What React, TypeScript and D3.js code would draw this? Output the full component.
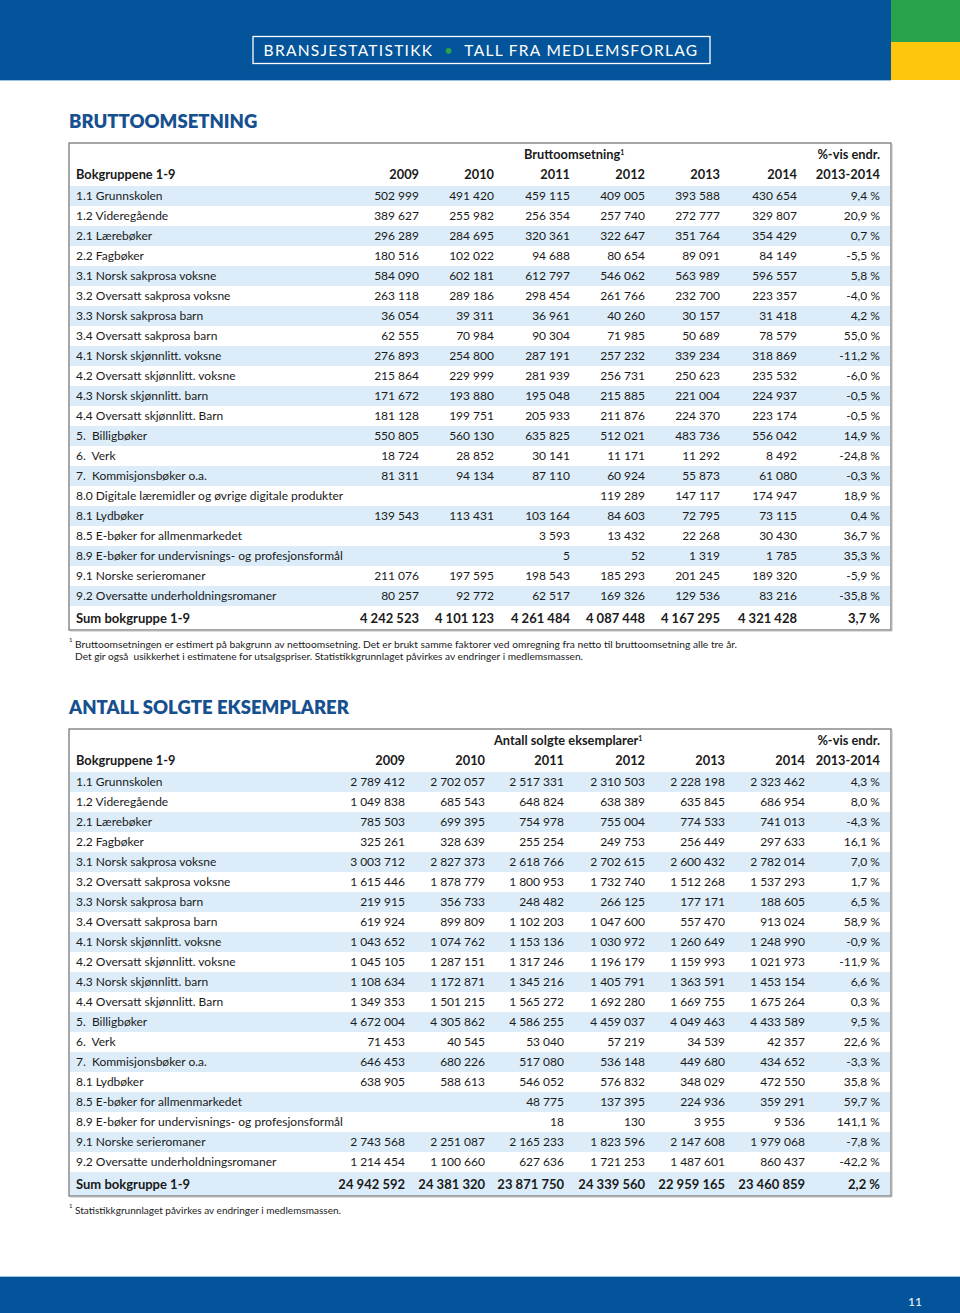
import React from "react";
import * as d3 from "d3";

// ---------- DATA ----------
const years = ["2009", "2010", "2011", "2012", "2013", "2014"];
const pctHeader = "2013-2014";

const categories1 = [
  "1.1 Grunnskolen",
  "1.2 Videregående",
  "2.1 Lærebøker",
  "2.2 Fagbøker",
  "3.1 Norsk sakprosa voksne",
  "3.2 Oversatt sakprosa voksne",
  "3.3 Norsk sakprosa barn",
  "3.4 Oversatt sakprosa barn",
  "4.1 Norsk skjønnlitt. voksne",
  "4.2 Oversatt skjønnlitt. voksne",
  "4.3 Norsk skjønnlitt. barn",
  "4.4 Oversatt skjønnlitt. Barn",
  "5.  Billigbøker",
  "6.  Verk",
  "7.  Kommisjonsbøker o.a.",
  "8.0 Digitale læremidler og øvrige digitale produkter",
  "8.1 Lydbøker",
  "8.5 E-bøker for allmenmarkedet",
  "8.9 E-bøker for undervisnings- og profesjonsformål",
  "9.1 Norske serieromaner",
  "9.2 Oversatte underholdningsromaner",
];
const values1: (number | null)[][] = [
  [502999, 491420, 459115, 409005, 393588, 430654],
  [389627, 255982, 256354, 257740, 272777, 329807],
  [296289, 284695, 320361, 322647, 351764, 354429],
  [180516, 102022, 94688, 80654, 89091, 84149],
  [584090, 602181, 612797, 546062, 563989, 596557],
  [263118, 289186, 298454, 261766, 232700, 223357],
  [36054, 39311, 36961, 40260, 30157, 31418],
  [62555, 70984, 90304, 71985, 50689, 78579],
  [276893, 254800, 287191, 257232, 339234, 318869],
  [215864, 229999, 281939, 256731, 250623, 235532],
  [171672, 193880, 195048, 215885, 221004, 224937],
  [181128, 199751, 205933, 211876, 224370, 223174],
  [550805, 560130, 635825, 512021, 483736, 556042],
  [18724, 28852, 30141, 11171, 11292, 8492],
  [81311, 94134, 87110, 60924, 55873, 61080],
  [null, null, null, 119289, 147117, 174947],
  [139543, 113431, 103164, 84603, 72795, 73115],
  [null, null, 3593, 13432, 22268, 30430],
  [null, null, 5, 52, 1319, 1785],
  [211076, 197595, 198543, 185293, 201245, 189320],
  [80257, 92772, 62517, 169326, 129536, 83216],
];
const pct1 = [9.4, 20.9, 0.7, -5.5, 5.8, -4.0, 4.2, 55.0, -11.2, -6.0, -0.5, -0.5, 14.9, -24.8, -0.3, 18.9, 0.4, 36.7, 35.3, -5.9, -35.8];
const sum1 = [4242523, 4101123, 4261484, 4087448, 4167295, 4321428];
const sumPct1 = 3.7;

const categories2 = [
  "1.1 Grunnskolen",
  "1.2 Videregående",
  "2.1 Lærebøker",
  "2.2 Fagbøker",
  "3.1 Norsk sakprosa voksne",
  "3.2 Oversatt sakprosa voksne",
  "3.3 Norsk sakprosa barn",
  "3.4 Oversatt sakprosa barn",
  "4.1 Norsk skjønnlitt. voksne",
  "4.2 Oversatt skjønnlitt. voksne",
  "4.3 Norsk skjønnlitt. barn",
  "4.4 Oversatt skjønnlitt. Barn",
  "5.  Billigbøker",
  "6.  Verk",
  "7.  Kommisjonsbøker o.a.",
  "8.1 Lydbøker",
  "8.5 E-bøker for allmenmarkedet",
  "8.9 E-bøker for undervisnings- og profesjonsformål",
  "9.1 Norske serieromaner",
  "9.2 Oversatte underholdningsromaner",
];
const values2: (number | null)[][] = [
  [2789412, 2702057, 2517331, 2310503, 2228198, 2323462],
  [1049838, 685543, 648824, 638389, 635845, 686954],
  [785503, 699395, 754978, 755004, 774533, 741013],
  [325261, 328639, 255254, 249753, 256449, 297633],
  [3003712, 2827373, 2618766, 2702615, 2600432, 2782014],
  [1615446, 1878779, 1800953, 1732740, 1512268, 1537293],
  [219915, 356733, 248482, 266125, 177171, 188605],
  [619924, 899809, 1102203, 1047600, 557470, 913024],
  [1043652, 1074762, 1153136, 1030972, 1260649, 1248990],
  [1045105, 1287151, 1317246, 1196179, 1159993, 1021973],
  [1108634, 1172871, 1345216, 1405791, 1363591, 1453154],
  [1349353, 1501215, 1565272, 1692280, 1669755, 1675264],
  [4672004, 4305862, 4586255, 4459037, 4049463, 4433589],
  [71453, 40545, 53040, 57219, 34539, 42357],
  [646453, 680226, 517080, 536148, 449680, 434652],
  [638905, 588613, 546052, 576832, 348029, 472550],
  [null, null, 48775, 137395, 224936, 359291],
  [null, null, 18, 130, 3955, 9536],
  [2743568, 2251087, 2165233, 1823596, 2147608, 1979068],
  [1214454, 1100660, 627636, 1721253, 1487601, 860437],
];
const pct2 = [4.3, 8.0, -4.3, 16.1, 7.0, 1.7, 6.5, 58.9, -0.9, -11.9, 6.6, 0.3, 9.5, 22.6, -3.3, 35.8, 59.7, 141.1, -7.8, -42.2];
const sum2 = [24942592, 24381320, 23871750, 24339560, 22959165, 23460859];
const sumPct2 = 2.2;

const footnote1 = [
  "Bruttoomsetningen er estimert på bakgrunn av nettoomsetning. Det er brukt samme faktorer ved omregning fra netto til bruttoomsetning alle tre år.",
  "Det gir også  usikkerhet i estimatene for utsalgspriser. Statistikkgrunnlaget påvirkes av endringer i medlemsmassen.",
];
const footnote2 = ["Statistikkgrunnlaget påvirkes av endringer i medlemsmassen."];

// ---------- STYLE ----------
const W = 960;
const H = 1313;
const BLUE = "#03549a";
const TITLE = "#17508f";
const STRIPE = "#dcedf9";
const TEXT = "#1a1a1a";
const FONT = "Lato, 'Open Sans', sans-serif";

const loc = d3.formatLocale({ decimal: ",", thousands: "\u2009", grouping: [3], currency: ["", ""], minus: "-" });
const fmtNum = loc.format(",d");
const fmtPct = loc.format(".1f");
const numStr = (v: number | null) => (v == null ? "" : fmtNum(v).replace(/\u2009/g, " "));
const pctStr = (v: number) => fmtPct(v).replace(/\u2212/g, "-") + " %";

type TableProps = {
  title: string;
  titleY: number;
  boxTop: number;
  groupLabel: string;
  groupX: number;
  colRights: number[];
  cats: string[];
  vals: (number | null)[][];
  pcts: number[];
  sums: number[];
  sumPct: number;
  notes: string[];
  noteWidths: number[];
};

function Table(p: TableProps) {
  const left = 69;
  const right = 891;
  const labelX = 76;
  const pctX = 880;
  const headerY1 = p.boxTop + 12;
  const headerY2 = p.boxTop + 32;
  const firstRow = p.boxTop + 43;
  const n = p.cats.length;
  const rowY = d3
    .scaleBand<number>()
    .domain(d3.range(n))
    .range([firstRow, firstRow + n * 20]);
  const colX = d3.scaleOrdinal<string, number>().domain(years).range(p.colRights);
  const sumTop = firstRow + n * 20;
  const sumH = 24;
  const boxBottom = sumTop + sumH;
  const sumStriped = n % 2 === 0;
  return (
    <g>
      <text x={left} y={p.titleY} fill={TITLE} fontFamily={FONT} fontWeight={800} fontSize={18.5}>
        {p.title}
      </text>
      {d3.range(n).map((i) =>
        i % 2 === 0 ? (
          <rect key={i} x={left + 1} y={rowY(i)} width={right - left - 2} height={rowY.bandwidth()} fill={STRIPE} />
        ) : null
      )}
      {sumStriped && <rect x={left + 1} y={sumTop} width={right - left - 2} height={sumH} fill={STRIPE} />}
      <rect x={left} y={p.boxTop} width={right - left} height={boxBottom - p.boxTop} fill="none" stroke="#777" strokeWidth={1.3} />
      <line x1={left + 1} x2={right + 1} y1={boxBottom + 1} y2={boxBottom + 1} stroke="#bbb" strokeWidth={1} />
      <line x1={right + 1} x2={right + 1} y1={p.boxTop + 1} y2={boxBottom + 1} stroke="#bbb" strokeWidth={1} />
      <g fontFamily={FONT} fontSize={12} fill={TEXT}>
        <g fontWeight={700} fontSize={12.8}>
          <text x={p.groupX} y={headerY1} dy="0.35em">
            {p.groupLabel}
            <tspan fontSize={7} dy="-0.6em">1</tspan>
          </text>
          <text x={pctX} y={headerY1} dy="0.35em" textAnchor="end">
            %-vis endr.
          </text>
          <text x={labelX} y={headerY2} dy="0.35em">
            Bokgruppene 1-9
          </text>
          {years.map((yr) => (
            <text key={yr} x={colX(yr)} y={headerY2} dy="0.35em" textAnchor="end">
              {yr}
            </text>
          ))}
          <text x={pctX} y={headerY2} dy="0.35em" textAnchor="end">
            {pctHeader}
          </text>
        </g>
        {p.cats.map((c, i) => {
          const cy = (rowY(i) as number) + rowY.bandwidth() / 2;
          return (
            <g key={c}>
              <text x={labelX} y={cy} dy="0.35em" xmlSpace="preserve" style={{ whiteSpace: "pre" }}>
                {c}
              </text>
              {years.map((yr, j) => (
                <text key={yr} x={colX(yr)} y={cy} dy="0.35em" textAnchor="end">
                  {numStr(p.vals[i][j])}
                </text>
              ))}
              <text x={pctX} y={cy} dy="0.35em" textAnchor="end">
                {pctStr(p.pcts[i])}
              </text>
            </g>
          );
        })}
        <g fontWeight={700} fontSize={13}>
          <text x={labelX} y={sumTop + sumH / 2} dy="0.35em">
            Sum bokgruppe 1-9
          </text>
          {years.map((yr, j) => (
            <text key={yr} x={colX(yr)} y={sumTop + sumH / 2} dy="0.35em" textAnchor="end">
              {numStr(p.sums[j])}
            </text>
          ))}
          <text x={pctX} y={sumTop + sumH / 2} dy="0.35em" textAnchor="end">
            {pctStr(p.sumPct)}
          </text>
        </g>
      </g>
      <g fontFamily={FONT} fontSize={10} fill={TEXT}>
        <text x={left} y={boxBottom + 12} fontSize={6}>
          1
        </text>
        {p.notes.map((t, i) => (
          <text
            key={i}
            x={75}
            y={boxBottom + 18 + i * 12}
            textLength={p.noteWidths[i]}
            lengthAdjust="spacingAndGlyphs"
            xmlSpace="preserve"
            style={{ whiteSpace: "pre" }}
          >
            {t}
          </text>
        ))}
      </g>
    </g>
  );
}

export default function App() {
  return (
    <svg
      width={W}
      height={H}
      viewBox={`0 0 ${W} ${H}`}
      style={{ position: "absolute", left: 0, top: 0, background: "#fff" }}
    >
      <rect x={0} y={0} width={891} height={80} fill={BLUE} />
      <rect x={891} y={0} width={69} height={42} fill="#2ba24c" />
      <rect x={891} y={42} width={69} height={38} fill="#fdc70d" />
      <line x1={0} x2={891} y1={80.5} y2={80.5} stroke="#9cc3e4" strokeWidth={1} />
      <rect x={253} y={36.5} width={457} height={27} fill="none" stroke="#fff" strokeWidth={1.3} />
      <text
        x={481}
        y={50}
        dy="0.36em"
        textAnchor="middle"
        fill="#fff"
        fontFamily={FONT}
        fontSize={15.5}
        letterSpacing={1.3}
        xmlSpace="preserve"
        style={{ whiteSpace: "pre" }}
      >
        BRANSJESTATISTIKK  <tspan fill="#2ba24c">•</tspan>  TALL FRA MEDLEMSFORLAG
      </text>

      <Table
        title="BRUTTOOMSETNING"
        titleY={128}
        boxTop={143}
        groupLabel="Bruttoomsetning"
        groupX={524}
        colRights={[419, 494, 570, 645, 720, 797]}
        cats={categories1}
        vals={values1}
        pcts={pct1}
        sums={sum1}
        sumPct={sumPct1}
        notes={footnote1}
        noteWidths={[662, 508]}
      />
      <Table
        title="ANTALL SOLGTE EKSEMPLARER"
        titleY={714}
        boxTop={729}
        groupLabel="Antall solgte eksemplarer"
        groupX={494}
        colRights={[405, 485, 564, 645, 725, 805]}
        cats={categories2}
        vals={values2}
        pcts={pct2}
        sums={sum2}
        sumPct={sumPct2}
        notes={footnote2}
        noteWidths={[266]}
      />

      <rect x={0} y={1277} width={W} height={H - 1277} fill={BLUE} />
      <line x1={0} x2={W} y1={1276.5} y2={1276.5} stroke="#9cc3e4" strokeWidth={1} />
      <text x={922} y={1306} textAnchor="end" fill="#fff" fontFamily={FONT} fontSize={12}>
        11
      </text>
    </svg>
  );
}
